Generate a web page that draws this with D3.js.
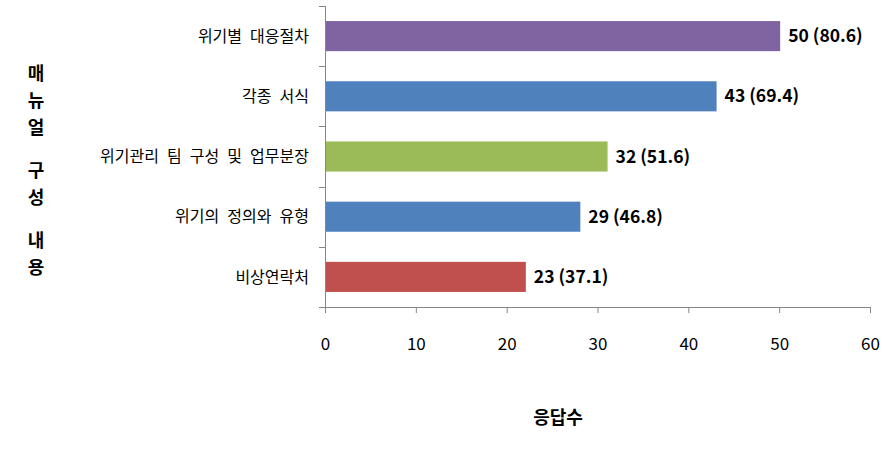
<!DOCTYPE html>
<html>
<head>
<meta charset="utf-8">
<script src="https://cdn.jsdelivr.net/npm/d3@7"></script>
<style>
body { margin: 0; background: #fff; }
text { font-family: "Noto Sans CJK KR", "Noto Sans", sans-serif; }
</style>
</head>
<body>
<div id="chart"></div>
<script>
// data
var categories = ['위기별 대응절차', '각종 서식', '위기관리 팀 구성 및 업무분장', '위기의 정의와 유형', '비상연락처'];
// bar lengths as drawn in the picture
var barValues = [50, 43, 31, 28, 22];
// label text as printed next to each bar
var countLabels = ['50', '43', '32', '29', '23'];
var percentLabels = ['80.6', '69.4', '51.6', '46.8', '37.1'];
var barColors = ['#8064A2', '#4F81BD', '#9BBB59', '#4F81BD', '#C0504D'];
var xTicks = [0, 10, 20, 30, 40, 50, 60];

var svgWidth = 896, svgHeight = 469;
var margin = { top: 6, left: 325 };
var chartWidth = 870 - margin.left;
var chartHeight = 307 - margin.top;

var svg = d3.select('#chart').append('svg')
    .attr('width', svgWidth)
    .attr('height', svgHeight);

var chartGroup = svg.append('g')
    .attr('transform', `translate(${margin.left}, ${margin.top})`);

var xscale = d3.scaleLinear().domain([0, 60]).range([0, chartWidth]);
var yscale = d3.scaleBand().domain(categories).range([0, chartHeight]).paddingInner(0.5).paddingOuter(0.25);

// x axis
var bottomaxis = d3.axisBottom(xscale).tickValues(xTicks).tickSize(6).tickPadding(25).tickSizeOuter(0);
var xg = chartGroup.append('g')
    .attr('transform', `translate(0, ${chartHeight})`)
    .call(bottomaxis);
xg.select('.domain').attr('stroke', '#868686');
xg.selectAll('.tick line').attr('stroke', '#868686');
xg.selectAll('.tick text').attr('font-size', 17).attr('fill', '#000');

// y axis with ticks between categories
chartGroup.append('line')
    .attr('x1', 0.5).attr('x2', 0.5).attr('y1', 0).attr('y2', chartHeight)
    .attr('stroke', '#868686');
var bounds = d3.range(categories.length + 1).map(i => Math.round(i * chartHeight / categories.length) + 0.5);
chartGroup.selectAll('.ytick')
    .data(bounds)
    .enter()
    .append('line')
    .attr('x1', -6).attr('x2', 0)
    .attr('y1', d => d).attr('y2', d => d)
    .attr('stroke', '#868686');

chartGroup.selectAll('.cat')
    .data(categories)
    .enter()
    .append('text')
    .attr('x', -16)
    .attr('y', d => yscale(d) + yscale.bandwidth() / 2)
    .attr('dy', '0.35em')
    .attr('text-anchor', 'end')
    .attr('font-size', 16)
    .attr('word-spacing', '4.5px')
    .attr('fill', '#000')
    .text(d => d);

// bars
chartGroup.selectAll('rect')
    .data(categories)
    .enter()
    .append('rect')
    .attr('x', 1)
    .attr('y', d => yscale(d))
    .attr('width', (d, i) => xscale(barValues[i]))
    .attr('height', yscale.bandwidth())
    .attr('fill', (d, i) => barColors[i]);

chartGroup.selectAll('.val')
    .data(categories)
    .enter()
    .append('text')
    .attr('x', (d, i) => xscale(barValues[i]) + 9)
    .attr('y', d => yscale(d) + yscale.bandwidth() / 2)
    .attr('dy', '0.35em')
    .attr('font-size', 17.5)
    .attr('font-weight', 'bold')
    .attr('fill', '#000')
    .text((d, i) => `${countLabels[i]} (${percentLabels[i]})`);

// x title
svg.append('text')
    .attr('x', 558).attr('y', 424)
    .attr('text-anchor', 'middle')
    .attr('font-size', 18)
    .attr('font-weight', 'bold')
    .text('응답수');

// y title, one character per line
var yTitle = '매뉴얼 구성 내용'.split('');
var yPos = 80;
yTitle.forEach(function (ch) {
    if (ch === ' ') { yPos += 16; return; }
    svg.append('text')
        .attr('x', 36).attr('y', yPos)
        .attr('text-anchor', 'middle')
        .attr('font-size', 18)
        .attr('font-weight', 'bold')
        .text(ch);
    yPos += 27;
});
</script>
</body>
</html>
